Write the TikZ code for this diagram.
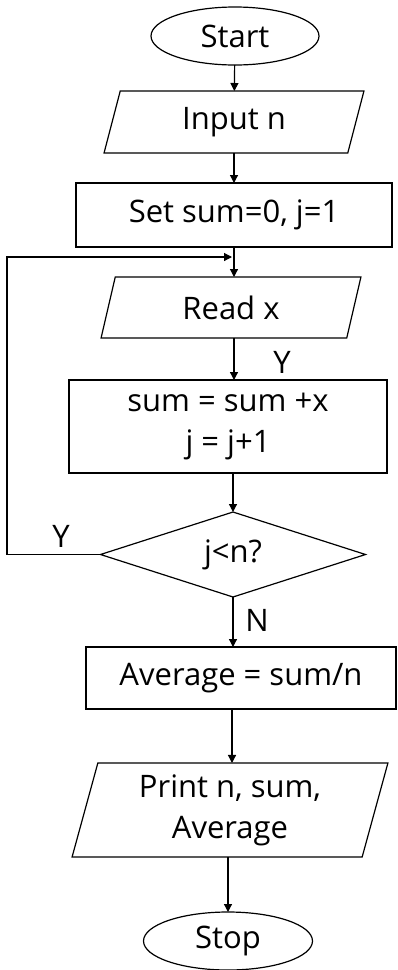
\documentclass[tikz,border=0pt]{standalone}
\usepackage{fontspec}
\setmainfont{Open Sans}
\usetikzlibrary{shapes.geometric,arrows.meta}

\tikzset{
  every node/.style={font=\fontsize{31}{41}\selectfont, inner sep=0pt, outer sep=0pt},
  flow/.style={line width=1.2pt},
  terminal/.style={flow, draw, ellipse, minimum width=168pt, minimum height=58pt},
  io/.style={flow, draw, trapezium, trapezium left angle=76, trapezium right angle=104,
             trapezium stretches=true, align=center},
  process/.style={flow, draw, rectangle, align=center},
  decision/.style={flow, draw, diamond, aspect=3},
  arrow/.style={flow, -{Triangle[length=8pt,width=8pt]}},
  lbl/.style={font=\fontsize{31}{41}\selectfont}
}

\begin{document}
\begin{tikzpicture}[x=1pt,y=-1pt]
  \useasboundingbox (0,0) rectangle (397,970);

  % nodes of the flowchart
  \node[terminal] (start) at (235,36) {Start};
  \node[io, minimum width=260pt, minimum height=62pt] (input) at (234,122) {Input n};
  \node[process, minimum width=316pt, minimum height=64pt] (set) at (234,215) {Set sum=0, j=1};
  \node[io, minimum width=260pt, minimum height=61pt] (read) at (231,307.5) {Read x};
  \node[process, minimum width=318pt, minimum height=93pt] (sum) at (228,426.5) {sum = sum +x\\ j = j+1};
  \node[decision, minimum width=265pt, minimum height=85pt] (dec) at (233,554.5) {j<n?};
  \node[process, minimum width=310pt, minimum height=62pt] (avg) at (241,678) {Average = sum/n};
  \node[io, minimum width=316pt, minimum height=94pt] (print) at (230,810) {Print n, sum,\\ Average};
  \node[terminal, minimum width=169pt] (stop) at (228,941) {Stop};

  % loop-back points
  \coordinate (join) at (234,257);
  \coordinate (corner) at (7,257);

  % connectors
  \draw[arrow] (start) -- (input);
  \draw[arrow] (input.south -| set.north) -- (set.north);
  \draw[flow] (set.south) -- (join);
  \draw[arrow] (join) -- (join |- read.north);
  \draw[arrow] (read.south -| 234,0) -- (sum.north -| 234,0);
  \draw[arrow] (sum.south -| dec.north) -- (dec.north);
  \draw[arrow] (dec.south) -- (dec.south |- avg.north);
  \draw[arrow] (avg.south -| 232,0) -- (print.north -| 232,0);
  \draw[arrow] (print.south -| stop.north) -- (stop.north);
  \draw[arrow] (dec.west) -| (corner) -- ([xshift=-2pt]join);

  % branch labels
  \node[lbl] (ylabel1) at (282,362) {Y};
  \node[lbl] (ylabel2) at (61,536) {Y};
  \node[lbl] (nlabel) at (257,620) {N};
\end{tikzpicture}
\end{document}
